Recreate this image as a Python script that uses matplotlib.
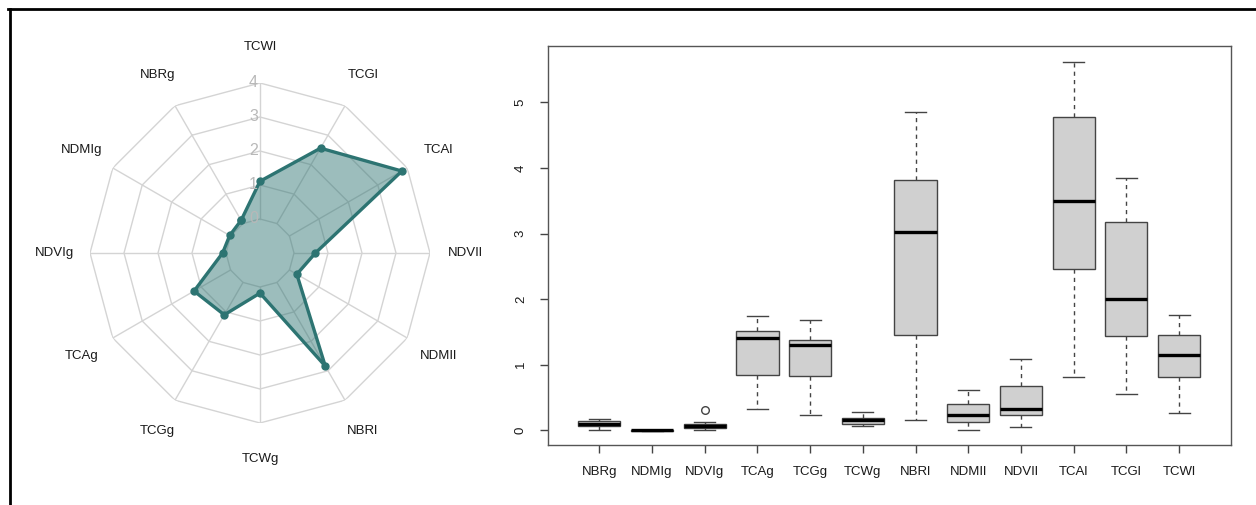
import numpy as np
import matplotlib
matplotlib.use("Agg")
import matplotlib.pyplot as plt
from matplotlib.lines import Line2D
import matplotlib.transforms as mtransforms

plt.rcParams['font.family'] = ['Liberation Sans', 'DejaVu Sans']

# ---- data ---------------------------------------------------------
indices = ['NBRg', 'NDMIg', 'NDVIg', 'TCAg', 'TCGg', 'TCWg',
           'NBRl', 'NDMIl', 'NDVIl', 'TCAl', 'TCGl', 'TCWl']

# radar profile values
radar_vals = [0.11, 0.03, 0.10, 1.24, 1.10, 0.18,
              2.84, 0.25, 0.63, 3.82, 2.56, 1.11]
radar_rings = [0, 1, 2, 3, 4]

# boxplot five-number summaries
whislo = [0.01, -0.01, 0.01, 0.32, 0.24, 0.06, 0.15, 0.00, 0.05, 0.81, 0.55, 0.26]
q1     = [0.06, -0.005, 0.04, 0.84, 0.82, 0.09, 1.46, 0.12, 0.24, 2.46, 1.44, 0.81]
med    = [0.10, 0.00, 0.066, 1.40, 1.30, 0.15, 3.02, 0.24, 0.32, 3.50, 2.00, 1.15]
q3     = [0.14, 0.005, 0.10, 1.51, 1.37, 0.19, 3.82, 0.40, 0.67, 4.77, 3.18, 1.46]
whishi = [0.17, 0.01, 0.12, 1.74, 1.68, 0.28, 4.86, 0.61, 1.09, 5.62, 3.84, 1.75]
fliers = {'NDVIg': [0.31]}

W, H = 1256, 505
fig = plt.figure(figsize=(W / 100, H / 100), dpi=100)

# page frame (top and left rule)
fig.add_artist(Line2D([8 / W, 1], [1 - 8.7 / H, 1 - 8.7 / H], color='black', lw=2.0))
fig.add_artist(Line2D([9.5 / W, 9.5 / W], [0, 1 - 8.7 / H], color='black', lw=2.0))

#---- radar chart ---------------------------------------------------
teal = '#2d7472'
grid_col = '#d4d4d4'
n = len(indices)
theta = [2 * np.pi * (i + 1) / n for i in range(n)]
theta_c = theta + theta[:1]

ax1 = fig.add_axes([90 / W, 1 - 423 / H, 340 / W, 340 / H], projection='polar')
ax1.set_theta_offset(np.pi / 2)
ax1.set_theta_direction(1)
ax1.set_ylim(-1, 4)
ax1.grid(False)
ax1.spines['polar'].set_visible(False)
ax1.set_xticks([])
ax1.set_yticks([])

for r in radar_rings:
    ax1.plot(theta_c, [r] * (n + 1), color=grid_col, lw=1.0, zorder=1)
for t in theta:
    ax1.plot([t, t], [radar_rings[0], radar_rings[-1]], color=grid_col, lw=1.0, zorder=1)

vals_c = radar_vals + radar_vals[:1]
ax1.fill(theta_c, vals_c, color=teal, alpha=0.47, lw=0, zorder=2)
ax1.plot(theta_c, vals_c, color=teal, lw=2.4, zorder=3,
         marker='o', markersize=5, solid_joinstyle='round')

# ring labels beside the top spoke
shift = mtransforms.offset_copy(ax1.transData, fig=fig, x=-2, y=0, units='dots')
for r in radar_rings:
    ax1.text(0, r, str(r), transform=shift, ha='right', va='center',
             fontsize=11.5, color='#b8b8b8', zorder=4)

for t, name in zip(theta, indices):
    ax1.text(t, 5.05, name, ha='center', va='center', fontsize=9.5,
             color='#1a1a1a', clip_on=False)

#---- boxplot -------------------------------------------------------
ax2 = fig.add_axes([547.7 / W, 1 - 445 / H, 683 / W, 399 / H])
stats = []
for i, name in enumerate(indices):
    stats.append(dict(label=name, whislo=whislo[i], q1=q1[i], med=med[i],
                      q3=q3[i], whishi=whishi[i], fliers=fliers.get(name, [])))

edge = '#444444'
ax2.bxp(stats, positions=range(1, n + 1), widths=0.8, patch_artist=True,
        boxprops=dict(facecolor='#d0d0d0', edgecolor=edge, lw=1.0),
        medianprops=dict(color='black', lw=2.4, solid_capstyle='butt'),
        whiskerprops=dict(color=edge, lw=1.0, linestyle=(0, (3, 3))),
        capprops=dict(color=edge, lw=1.0), capwidths=0.4,
        flierprops=dict(marker='o', markerfacecolor='none', markeredgecolor=edge,
                        markersize=5.5, markeredgewidth=1.0))

ax2.set_xlim(0.02, 12.98)
ax2.set_ylim(-0.225, 5.86)
ax2.set_yticks([0, 1, 2, 3, 4, 5])
ax2.set_yticklabels(['0', '1', '2', '3', '4', '5'], rotation=90, va='center')
ax2.set_xticks(range(1, n + 1))
ax2.set_xticklabels(indices)
ax2.tick_params(axis='both', length=6, width=1.0, color=edge, labelsize=9.5,
                labelcolor='#1a1a1a')
ax2.tick_params(axis='x', pad=9)
ax2.tick_params(axis='y', pad=9)
for s in ax2.spines.values():
    s.set_color('#555555')
    s.set_linewidth(1.0)

fig.savefig('out.png', dpi=100)
